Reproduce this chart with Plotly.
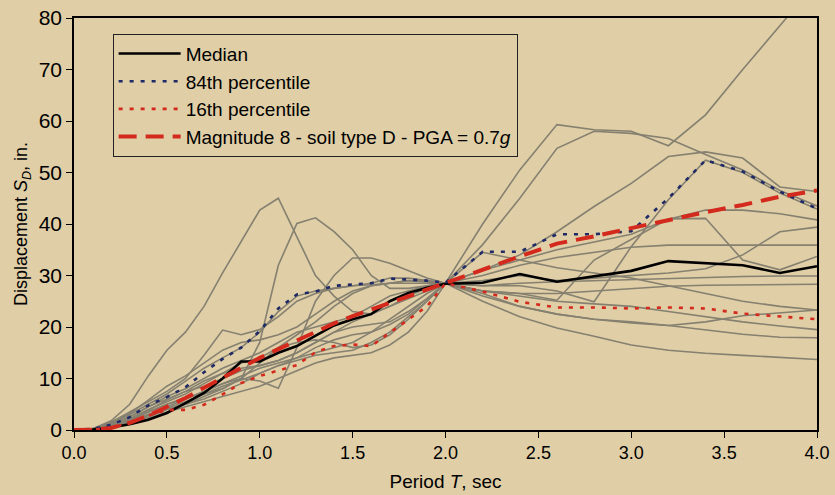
import plotly.graph_objects as go

# Period grid (sec)
T = [0.0, 0.1, 0.2, 0.3, 0.4, 0.5, 0.6, 0.7, 0.8, 0.9, 1.0, 1.1, 1.2, 1.3, 1.4, 1.5,
     1.6, 1.7, 1.8, 1.9, 2.0, 2.2, 2.4, 2.6, 2.8, 3.0, 3.2, 3.4, 3.6, 3.8, 4.0]

# Individual scaled ground motions (displacement, in.)
g1 = [0, 0.2, 1.8, 5, 10.5, 15.5, 19, 24, 30.5, 36.6, 42.7, 45, 37.5, 30, 26, 23, 22.5, 24, 26, 27.5, 28.5,
      26.5, 24, 22.5, 21.5, 20.8, 20.3, 21, 22.2, 22.8, 23.3]
g2 = [0, 0.1, 0.8, 2, 3.5, 5, 6.3, 7, 8, 10, 17, 32, 40.1, 41.2, 38.5, 35, 30, 27.5, 27.5, 28, 28.5,
      40, 50.5, 59.3, 58.3, 58, 55.2, 61.2, 70, 78.5, 87]
g3 = [0, 0.1, 0.6, 1.8, 3.5, 5, 6, 7.5, 9, 10, 9.5, 8.1, 16, 25, 30, 33.4, 33.4, 32.4, 31, 29.5, 28.5,
      25, 22, 19.8, 18.2, 16.5, 15.5, 14.9, 14.5, 14.1, 13.7]
g4 = [0, 0.3, 1.5, 3.5, 5.5, 7.5, 10, 14.5, 19.4, 18.5, 19.5, 22, 25, 26.5, 27.5, 28, 28.2, 28.5, 29, 28.8, 28.5,
      36, 45, 54.7, 58, 57.6, 56.6, 53.5, 50.5, 46.5, 43.5]
g5 = [0, 0.2, 1.2, 3, 5, 7, 9.5, 12, 14, 16, 19, 23, 26, 27, 27.5, 28, 28.5, 29.5, 29.5, 29, 28.5,
      31, 34, 38.5, 43.4, 47.9, 53.1, 54, 52.8, 47.2, 46.3]
g6 = [0, 0.1, 0.8, 2.2, 4, 5.5, 7, 9, 11, 13, 14, 16, 18.5, 21, 24, 26.5, 28, 28.5, 28.5, 28.5, 28.5,
      28, 28, 27, 24.9, 35.6, 44.7, 52.4, 50, 46, 42.9]
g7 = [0, 0.2, 1.0, 2.5, 4.5, 6.5, 8, 10, 12, 13.5, 15, 17, 19, 20, 21, 22, 24, 26, 27, 28, 28.5,
      27, 26.5, 25.2, 33, 37, 41, 41.1, 33, 31.1, 33.7]
g8 = [0, 0.1, 0.5, 1.5, 3, 4.5, 6, 7.5, 9, 10.5, 12, 13, 14, 15, 16, 17, 19, 21.5, 24, 26.5, 28.5,
      31, 33, 35, 36.5, 38, 40.9, 42.7, 42.7, 42, 40.8]
g9 = [0, 0.1, 0.5, 1.3, 2.5, 4, 5, 6, 7.5, 9, 11, 12.5, 13.5, 14.5, 15, 15.5, 17, 19, 22, 25, 28.5,
      29, 30, 29, 29.5, 30, 30.5, 31.3, 34, 38.5, 39.4]
g10 = [0, 0.1, 0.7, 2, 3.8, 5.8, 7.5, 8.5, 10, 11.5, 12.5, 13.5, 15, 17, 19, 21, 22.5, 24, 25.5, 27, 28.5,
       30, 32, 33.5, 34.5, 35.5, 35.9, 35.9, 35.9, 35.9, 35.9]
g11 = [0, 0.1, 0.4, 1.2, 2.2, 3.5, 4.5, 5.5, 6.5, 7.5, 8.5, 10, 11.5, 13, 14, 14.5, 15, 16.5, 19, 23, 28.5,
       28, 28.5, 28.8, 29, 29.2, 29.5, 29.7, 29.8, 29.9, 29.9]
g12 = [0, 0.2, 1.3, 3.2, 5.8, 8.5, 10.5, 13, 15.5, 17, 17.5, 18.5, 20, 22.5, 25, 27, 28, 28.5, 29, 29, 28.5,
       27, 26.5, 26.5, 27, 27.5, 27.9, 28.1, 28.2, 28.3, 28.3]
g13 = [0, 0.1, 0.6, 1.6, 3, 4.3, 5.5, 7, 8.5, 9.7, 11, 12.5, 14, 16, 17.5, 18.5, 19, 20.5, 22.5, 25.5, 28.5,
       34.5, 33, 31.5, 30.5, 29.5, 28, 26.5, 25, 24, 23.3]
g14 = [0, 0.1, 0.5, 1.4, 2.8, 4, 5, 6.5, 8, 10, 13, 16, 17, 17.5, 17, 16, 16.5, 18.5, 21.5, 25, 28.5,
       27, 26, 25, 24.5, 24, 23, 22, 21, 20.2, 19.5]
g15 = [0, 0.2, 1.0, 2.6, 4.5, 6, 7.5, 9.5, 11, 12, 12.5, 13.5, 15, 17, 19, 20, 20.5, 21, 23, 25.5, 28.5,
       26, 24, 22.5, 21.5, 21, 20.3, 19.5, 18.6, 18, 17.9]
ground_motions = [g1, g2, g3, g4, g5, g6, g7, g8, g9, g10, g11, g12, g13, g14, g15]

median = [0, 0.1, 0.5, 1.1, 2.0, 3.3, 5.2, 7.2, 10.0, 13.3, 13.3, 15.0, 16.3, 18.3, 20.3, 21.5, 22.5, 25.0,
          26.6, 27.6, 28.4, 28.6, 30.3, 28.8, 29.8, 30.9, 32.8, 32.4, 32.0, 30.5, 31.8]
p84 = [0, 0.2, 1.0, 2.5, 4.8, 6.4, 8.3, 11.2, 13.8, 16.0, 19.2, 23.6, 26.3, 26.9, 28.0, 28.3, 28.5, 29.4,
       29.2, 29.0, 28.6, 34.6, 34.6, 38.0, 38.0, 38.6, 45.0, 52.4, 50.2, 46.3, 43.0]
p16 = [0, 0.1, 0.4, 1.4, 2.8, 3.9, 3.9, 4.9, 6.9, 9.1, 10.5, 11.6, 12.6, 15.1, 16.3, 16.6, 16.3, 18.9,
       21.5, 24.0, 28.5, 26.9, 24.9, 23.8, 23.8, 23.6, 23.8, 23.6, 22.6, 22.1, 21.5]
target = [0, 0.05, 0.4, 1.4, 2.8, 4.4, 6.2, 8.2, 10.2, 12.2, 14.0, 15.7, 17.4, 19.1, 20.7, 22.1, 23.4, 24.6,
          25.9, 27.1, 28.5, 31.1, 33.7, 36.2, 37.6, 39.2, 40.8, 42.3, 43.7, 45.3, 46.5]

BG = "#DFCEA6"
GRAY = "#858070"

fig = go.Figure()
for g in ground_motions:
    fig.add_trace(go.Scatter(x=T, y=g, mode="lines", line=dict(color=GRAY, width=1.6),
                             showlegend=False, hoverinfo="skip"))

fig.add_trace(go.Scatter(x=T, y=median, mode="lines", name="Median", legendrank=1,
                         line=dict(color="black", width=2.6)))
fig.add_trace(go.Scatter(x=T, y=p84, mode="lines", name="84th percentile", legendrank=2,
                         line=dict(color="#1F2A66", width=2.6, dash="4px,7px")))
fig.add_trace(go.Scatter(x=T, y=p16, mode="lines", name="16th percentile", legendrank=3,
                         line=dict(color="#D42A1E", width=2.6, dash="4px,7px")))
fig.add_trace(go.Scatter(x=T, y=target, mode="lines",
                         name="Magnitude 8 - soil type D - PGA = 0.7<i>g</i>", legendrank=4,
                         line=dict(color="#D42A1E", width=4, dash="18px,9px")))

FONT = "Liberation Sans, Arial, sans-serif"
fig.update_layout(
    width=835, height=495, autosize=False,
    margin=dict(l=74, r=18, t=18, b=65, autoexpand=False),
    paper_bgcolor=BG, plot_bgcolor=BG,
    font=dict(family=FONT, color="black"),
    legend=dict(x=0.052, y=0.962, xanchor="left", yanchor="top",
                bgcolor=BG, bordercolor="#222", borderwidth=1,
                font=dict(size=19, family=FONT), tracegroupgap=0,
                itemwidth=62),
    xaxis=dict(range=[0, 4], dtick=0.5, tick0=0, tickformat=".1f", automargin=False,
               showgrid=False, zeroline=False, showline=True, linecolor="black", linewidth=1.5,
               mirror=True, ticks="outside", ticklen=6, tickcolor="black",
               tickfont=dict(size=18, family="Liberation Sans Narrow, " + FONT),
               title=dict(text="Period <i>T</i>, sec", font=dict(size=19, family="Liberation Sans Narrow, " + FONT),
                          standoff=12)),
    yaxis=dict(range=[0, 80], dtick=10, tick0=0, automargin=False,
               showgrid=False, zeroline=False, showline=True, linecolor="black", linewidth=1.5,
               mirror=True, ticks="outside", ticklen=6, tickcolor="black",
               tickfont=dict(size=21, family=FONT),
               title=dict(text="Displacement <i>S</i><sub><i>D</i></sub>, in.", font=dict(size=18, family=FONT),
                          standoff=6)),
)

fig.write_html("out.html")
